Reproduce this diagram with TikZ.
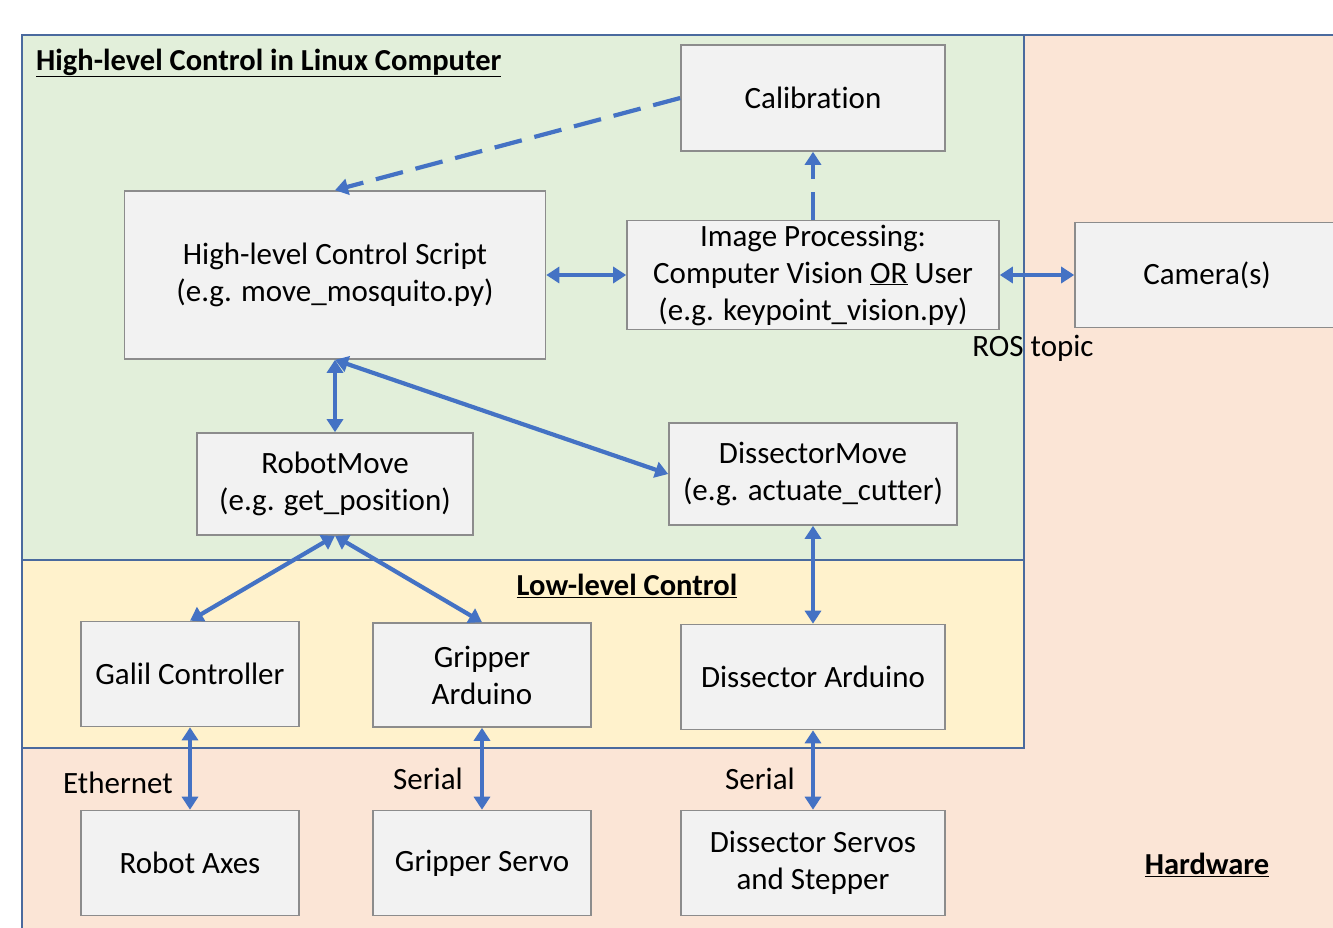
\documentclass[tikz,border=0pt]{standalone}
\usepackage{fontspec}
\setmainfont{Carlito}[Ligatures=NoCommon]
\usetikzlibrary{arrows.meta}
\definecolor{hlgreen}{HTML}{E2EFDA}
\definecolor{llyellow}{HTML}{FFF2CC}
\definecolor{hwpeach}{HTML}{FBE5D6}
\definecolor{areaedge}{HTML}{4A6A9E}
\definecolor{boxfill}{HTML}{F2F2F2}
\definecolor{boxedge}{HTML}{8C8C8C}
\definecolor{linkblue}{HTML}{4472C4}
\newcommand{\boxfont}{\fontsize{31}{37}\selectfont}
\newcommand{\titlefont}{\fontsize{30.5}{36}\selectfont\bfseries}

\begin{document}
\begin{tikzpicture}[x=1pt, y=-1pt, >={Triangle[length=13pt, width=16pt]},
    area/.style={draw=areaedge, line width=1.6pt},
    blk/.style={draw=boxedge, fill=boxfill, line width=1.6pt, align=center, font=\boxfont, inner sep=0pt},
    link/.style={linkblue, line width=4.2pt, <->},
    dlink/.style={linkblue, line width=4.2pt, ->, dash pattern=on 28pt off 13pt},
    lbl/.style={font=\boxfont, inner sep=0pt}]
    \useasboundingbox (0,0) rectangle (1333,927);
    % background areas
    \fill[white] (0,0) rectangle (1333,927);
    \filldraw[area, fill=hwpeach] (22,35) rectangle (1345,940);
    \filldraw[area, fill=hlgreen] (22,35) rectangle (1024,560);
    \filldraw[area, fill=llyellow] (22,560) rectangle (1024,748);
    \node[anchor=west, inner sep=0pt, font=\titlefont] (tHigh) at (36,63) {\underline{High-level Control in Linux Computer}};
    \node[inner sep=0pt, font=\titlefont] (tLow) at (627,586) {\underline{Low-level Control}};
    \node[inner sep=0pt, font=\titlefont] (tHw) at (1207,865) {\underline{Hardware}};
    % blocks
    \node[blk, minimum width=264pt, minimum height=106pt] (cal) at (813,98) {Calibration};
    \node[blk, minimum width=421pt, minimum height=168pt] (hlcs) at (335,275) {High-level Control Script\\(e.g. move\_mosquito.py)};
    \node[blk, minimum width=372pt, minimum height=109pt] (ip) at (813,275) {Image Processing:\\Computer Vision \underline{OR} User\\(e.g. keypoint\_vision.py)};
    \node[blk, minimum width=264pt, minimum height=105pt] (cam) at (1207,275) {Camera(s)};
    \node[blk, minimum width=276pt, minimum height=102pt] (rmove) at (335,484) {RobotMove\\(e.g. get\_position)};
    \node[blk, minimum width=288pt, minimum height=102pt] (dmove) at (813,474) {DissectorMove\\(e.g. actuate\_cutter)};
    \node[blk, minimum width=218pt, minimum height=105pt] (galil) at (190,674) {Galil Controller};
    \node[blk, minimum width=218pt, minimum height=104pt] (grard) at (482,675) {Gripper\\Arduino};
    \node[blk, minimum width=264pt, minimum height=105pt] (dsard) at (813,677) {Dissector Arduino};
    \node[blk, minimum width=218pt, minimum height=105pt] (axes) at (190,863) {Robot Axes};
    \node[blk, minimum width=218pt, minimum height=105pt] (grservo) at (482,863) {Gripper Servo};
    \node[blk, minimum width=264pt, minimum height=105pt] (dsservo) at (813,863) {Dissector Servos\\and Stepper};
    % links
    \draw[dlink] (cal.west) -- (hlcs.north);
    \draw[dlink] (ip.north) -- (cal.south);
    \draw[link] (hlcs.east) -- (ip.west);
    \draw[link] (ip.east) -- (cam.west);
    \draw[link] (hlcs.south) -- (rmove.north);
    \draw[link] (hlcs.south) -- (dmove.west);
    \draw[link] (rmove.south) -- (galil.north);
    \draw[link] (rmove.south) -- (grard.north);
    \draw[link] (dmove.south) -- (dsard.north);
    \draw[link] (galil.south) -- (axes.north);
    \draw[link] (grard.south) -- (grservo.north);
    \draw[link] (dsard.south) -- (dsservo.north);
    % link labels
    \node[lbl] (ros) at (1033,348) {ROS topic};
    \node[lbl] (eth) at (118,783) {Ethernet};
    \node[lbl] (ser1) at (428,779) {Serial};
    \node[lbl] (ser2) at (760,779) {Serial};
\end{tikzpicture}
\end{document}
